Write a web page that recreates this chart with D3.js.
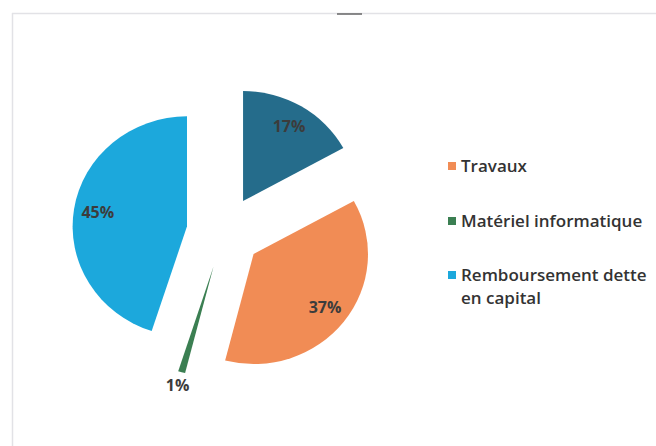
<!DOCTYPE html>
<html>
<head>
<meta charset="utf-8">
<script src="https://cdn.jsdelivr.net/npm/d3@7"></script>
<style>
  body { margin: 0; background: #fff; }
  svg { display: block; }
</style>
</head>
<body>
<script>
// slices in drawing order (clockwise from 12 o'clock)
let sliceNames = ['Autres', 'Travaux', 'Matériel informatique', 'Remboursement dette en capital']
let sliceValues = [17, 37, 1, 45]
let sliceColors = ['#256c8b', '#f18c55', '#3b7f52', '#1ca8dc']
// legend only lists three of them in the original
let legendItems = [
  ['Travaux'],
  ['Matériel informatique'],
  ['Remboursement dette', 'en capital']
]
let legendColors = ['#f18c55', '#3b7f52', '#1ca8dc']

function drawPie () {
  let width = 656
  let height = 446
  let radius = 110
  let stretchX = 1.04 // the scan is a little wider than tall
  let explode = 36
  let cx = 224
  let cy = 232

  let svg = d3.select('body').append('svg')
    .attr('width', width)
    .attr('height', height)

  // faint frame of the scanned picture
  svg.append('line')
    .attr('x1', 12).attr('y1', 13.5).attr('x2', width).attr('y2', 13.5)
    .style('stroke', '#e2e2e6').style('stroke-width', 1.5)
  svg.append('line')
    .attr('x1', 12.5).attr('y1', 13).attr('x2', 12.5).attr('y2', height)
    .style('stroke', '#e2e2e6').style('stroke-width', 1.5)
  svg.append('line')
    .attr('x1', 337).attr('y1', 14).attr('x2', 362).attr('y2', 14)
    .style('stroke', '#666').style('stroke-width', 1.5)

  let total = d3.sum(sliceValues)
  let pie = d3.pie().sort(null).value(d => d)
  let arcs = pie(sliceValues)

  let arc = d3.arc().innerRadius(0).outerRadius(radius)
  let midAngle = d => (d.startAngle + d.endAngle) / 2

  let pieSpace = svg.append('g')
    .attr('transform', 'translate(' + cx + ',' + cy + ')')

  let slices = pieSpace.selectAll('g.slice')
    .data(arcs)
    .enter().append('g')
    .attr('class', 'slice')
    .attr('transform', d => 'translate(' + (Math.sin(midAngle(d)) * explode * stretchX) + ',' + (-Math.cos(midAngle(d)) * explode) + ')')

  slices.append('path')
    .attr('d', arc)
    .attr('transform', 'scale(' + stretchX + ',1)')
    .style('fill', (d, i) => sliceColors[i])

  // percentage labels, inside except for the thin one
  let labelRadius = d => (d.value / total < 0.05) ? radius + 14 : radius * 0.79
  slices.append('text')
    .text(d => Math.round(d.value / total * 100) + '%')
    .attr('x', d => Math.sin(midAngle(d)) * labelRadius(d) * stretchX)
    .attr('y', d => -Math.cos(midAngle(d)) * labelRadius(d))
    .attr('dy', '.35em')
    .attr('text-anchor', 'middle')
    .style('font-family', '"Open Sans", sans-serif')
    .style('font-weight', 700)
    .style('font-size', '16px')
    .style('fill', '#3c3c3c')

  /* legend */
  let legendY = [166, 221, 275]
  let legend = svg.append('g').attr('class', 'legend')
  legendItems.forEach((lines, i) => {
    let g = legend.append('g').attr('transform', 'translate(448,' + legendY[i] + ')')
    g.append('rect')
      .attr('x', 0).attr('y', -4)
      .attr('width', 8).attr('height', 8)
      .style('fill', legendColors[i])
    lines.forEach((line, j) => {
      g.append('text')
        .text(line)
        .attr('x', 13)
        .attr('y', j * 23)
        .attr('dy', '.35em')
        .style('font-family', '"Open Sans", sans-serif')
        .style('font-weight', 600)
        .style('font-size', '17px')
        .style('fill', '#333')
    })
  })
}

drawPie()
</script>
</body>
</html>
